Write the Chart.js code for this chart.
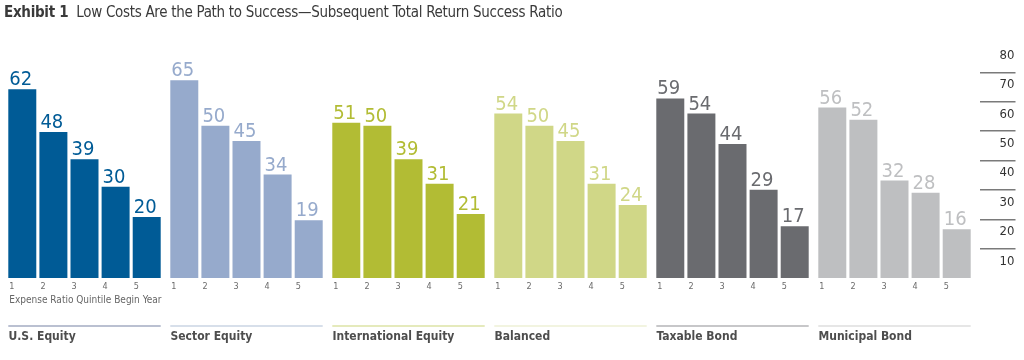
<!DOCTYPE html>
<html>
<head>
<meta charset="utf-8">
<script src="https://cdn.jsdelivr.net/npm/chart.js@4/dist/chart.umd.min.js"></script>
<style>
  html, body { margin: 0; padding: 0; background: #fff; }
  #wrap { position: relative; width: 1024px; height: 360px; }
  #title {
    position: absolute; left: 4px; top: 2px;
    font-family: "DejaVu Sans Condensed", "Liberation Sans Narrow", sans-serif;
    font-size: 15px; line-height: 20px; letter-spacing: -0.3px; color: #3a3a3a; white-space: nowrap;
  }
  #title b { margin-right: 4px; }
  canvas { position: absolute; left: 0; top: 0; }
</style>
</head>
<body>
<div id="wrap">
  <canvas id="chart" width="1024" height="360"></canvas>
  <div id="title"><b>Exhibit 1</b> Low Costs Are the Path to Success—Subsequent Total Return Success Ratio</div>
</div>
<script>
const groups = ["U.S. Equity", "Sector Equity", "International Equity", "Balanced", "Taxable Bond", "Municipal Bond"];
const quintiles = ["1", "2", "3", "4", "5"];

const usEquity = [62, 48, 39, 30, 20];
const sectorEquity = [65, 50, 45, 34, 19];
const intlEquity = [51, 50, 39, 31, 21];
const balanced = [54, 50, 45, 31, 24];
const taxableBond = [59, 54, 44, 29, 17];
const municipalBond = [56, 52, 32, 28, 16];

const rightTicks = [10, 20, 30, 40, 50, 60, 70, 80];

const groupColors = ["#005b96", "#96aacc", "#b2bc34", "#d0d787", "#6a6b6f", "#bebfc1"];
const ruleColors = ["#a3abc2", "#cad4e3", "#dde3a6", "#eef0d6", "#b5b5b7", "#dedede"];

const NARROW = '"DejaVu Sans Condensed", "Liberation Sans Narrow", sans-serif';

const seriesByGroup = [usEquity, sectorEquity, intlEquity, balanced, taxableBond, municipalBond];

// one dataset per quintile, one category per fund group
const datasets = quintiles.map((q, i) => ({
  label: q,
  data: seriesByGroup.map(s => s[i]),
  backgroundColor: groupColors,
  yAxisID: "y",
  categoryPercentage: 0.96,
  barPercentage: 0.9
}));

const barLabels = {
  id: "barLabels",
  afterDatasetsDraw(chart) {
    const ctx = chart.ctx;
    const bottom = chart.chartArea.bottom;
    ctx.save();
    chart.data.datasets.forEach((ds, di) => {
      const meta = chart.getDatasetMeta(di);
      meta.data.forEach((bar, gi) => {
        const left = bar.x - bar.width / 2;
        ctx.fillStyle = groupColors[gi];
        ctx.font = "20px " + NARROW;
        ctx.textAlign = "left";
        ctx.textBaseline = "alphabetic";
        ctx.fillText(String(ds.data[gi]), left + 1, bar.y - 4);

        ctx.fillStyle = "#6b6b6b";
        ctx.font = "9px " + NARROW;
        ctx.textBaseline = "middle";
        ctx.fillText(ds.label, left + 1, bottom + 9);
      });
    });

    // caption under the first group
    const first = chart.getDatasetMeta(0).data[0];
    ctx.fillStyle = "#666";
    ctx.font = "10px " + NARROW;
    ctx.textBaseline = "middle";
    ctx.fillText("Expense Ratio Quintile Begin Year", first.x - first.width / 2 + 1, bottom + 22);

    // rule above each group name
    const lastMeta = chart.getDatasetMeta(quintiles.length - 1);
    groups.forEach((g, gi) => {
      const a = chart.getDatasetMeta(0).data[gi];
      const b = lastMeta.data[gi];
      ctx.strokeStyle = ruleColors[gi];
      ctx.lineWidth = 1.5;
      ctx.beginPath();
      ctx.moveTo(a.x - a.width / 2, bottom + 48);
      ctx.lineTo(b.x + b.width / 2, bottom + 48);
      ctx.stroke();
    });
    ctx.restore();
  }
};

new Chart(document.getElementById("chart"), {
  type: "bar",
  data: { labels: groups, datasets: datasets },
  options: {
    responsive: false,
    animation: false,
    layout: { padding: { top: 43, left: 3.5, right: 0, bottom: 0 } },
    plugins: { legend: { display: false }, tooltip: { enabled: false }, title: { display: false } },
    scales: {
      x: {
        type: "category",
        grid: { display: true, drawOnChartArea: false, drawTicks: true, tickLength: 52, color: "rgba(0,0,0,0)" },
        border: { display: false },
        afterFit(scale) { scale.height = 82; },
        ticks: {
          autoSkip: false,
          maxRotation: 0,
          align: "start",
          labelOffset: -76,
          padding: 0,
          color: "#4d4d4d",
          font: { family: NARROW, size: 12, weight: "bold" }
        }
      },
      y: { display: false, min: 0, max: 77.2 },
      y2: {
        position: "right",
        min: 0,
        max: 80,
        afterFit(scale) { scale.width = 48.5; },
        border: { display: true, color: "rgba(0,0,0,0)", width: 9 },
        grid: {
          drawOnChartArea: false,
          drawTicks: true,
          tickLength: 40,
          lineWidth: 1.5,
          color: ctx => (ctx.tick && ctx.tick.value > 0 && ctx.tick.value < 80) ? "#7a7a7a" : "rgba(0,0,0,0)"
        },
        ticks: {
          stepSize: 10,
          crossAlign: "near",
          padding: -16,
          labelOffset: 12.5,
          color: "#333",
          font: { family: NARROW, size: 13 },
          callback: v => rightTicks.includes(v) ? String(v) : ""
        }
      }
    }
  },
  plugins: [barLabels]
});
</script>
</body>
</html>
